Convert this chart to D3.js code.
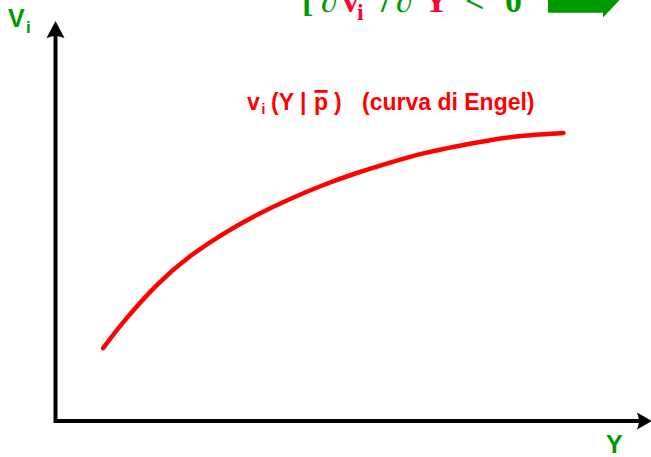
<!DOCTYPE html>
<html>
<head>
<meta charset="utf-8">
<script src="https://cdn.jsdelivr.net/npm/d3@7"></script>
<style>
  html, body { margin: 0; padding: 0; background: #fff; }
  svg { display: block; }
</style>
</head>
<body>
<svg id="chart" width="651" height="457"></svg>
<script>
// Engel curve: quantity demanded v_i against income Y, prices held fixed
const incomeY = [0.80, 1.15, 1.71, 2.27, 2.82, 3.38, 3.94, 4.50, 5.06, 5.62, 6.18, 6.74, 7.30, 7.86, 8.53];
const demandV = [1.82, 2.49, 3.41, 4.13, 4.68, 5.15, 5.55, 5.90, 6.20, 6.46, 6.69, 6.87, 7.02, 7.13, 7.20];
const axisMax = [10, 10];           // [Y, v] extent of the drawn axes
const axisLabels = ["Y", "V", "i"];

const svg = d3.select("#chart");

const x = d3.scaleLinear().domain([0, axisMax[0]]).range([55.5, 651]);
const y = d3.scaleLinear().domain([0, axisMax[1]]).range([421, 21]);

const GREEN = "#009900";
const RED = "#ff0000";
const RED2 = "#ff0033";

// ---- header formula (partly above the top edge) ----
const hdr = svg.append("text")
  .attr("font-family", "'Liberation Serif', 'Times New Roman', serif")
  .attr("font-weight", "bold")
  .attr("font-size", 34)
  .attr("y", 12);
const glyphs = [
  { t: "[", x: 302, c: GREEN },
  { t: "\u2202", x: 321, c: GREEN },
  { t: "v", x: 342, c: RED2 },
  { t: "i", x: 357, c: RED2, sub: true },
  { t: "/", x: 381, c: GREEN },
  { t: "\u2202", x: 396, c: GREEN },
  { t: "Y", x: 424, c: RED2 },
  { t: "<", x: 465, c: GREEN },
  { t: "0", x: 505, c: GREEN }
];
glyphs.forEach(g => {
  hdr.append("tspan")
    .attr("x", g.x)
    .attr("y", g.sub ? 20 : 12)
    .attr("font-size", g.sub ? 24 : 34)
    .attr("fill", g.c)
    .text(g.t);
});

// green block arrow at the top right
const arrowPath = d3.path();
arrowPath.moveTo(548, -20);
arrowPath.lineTo(603, -20);
arrowPath.lineTo(603, -47);
arrowPath.lineTo(634, -15);
arrowPath.lineTo(603, 17.5);
arrowPath.lineTo(603, 12.7);
arrowPath.lineTo(548, 12.7);
arrowPath.closePath();
svg.append("path").attr("d", arrowPath.toString()).attr("fill", GREEN);

// ---- axes ----
const x0 = x(0), y0 = y(0);
const xEnd = x(axisMax[0]), yEnd = y(axisMax[1]);
svg.append("path")
  .attr("d", d3.line()([[x0, yEnd + 14], [x0, y0], [xEnd - 12, y0]]))
  .attr("fill", "none")
  .attr("stroke", "#000")
  .attr("stroke-width", 4)
  .attr("stroke-linejoin", "miter")
  .attr("stroke-linecap", "square");

// arrowheads
svg.append("path")
  .attr("d", d3.line()([[x0, yEnd], [x0 + 9, yEnd + 17], [x0, yEnd + 14.5], [x0 - 9, yEnd + 17]]) + "Z")
  .attr("fill", "#000");
svg.append("path")
  .attr("d", d3.line()([[xEnd + 1, y0], [xEnd - 14, y0 - 8.5], [xEnd - 11.5, y0], [xEnd - 14, y0 + 8.5]]) + "Z")
  .attr("fill", "#000");

// axis labels
svg.append("text")
  .attr("x", 606).attr("y", 453)
  .attr("font-family", "'Liberation Sans', Arial, sans-serif")
  .attr("font-weight", "bold").attr("font-size", 25)
  .attr("fill", GREEN)
  .text(axisLabels[0]);
const vLab = svg.append("text")
  .attr("x", 8).attr("y", 27)
  .attr("font-family", "'Liberation Sans', Arial, sans-serif")
  .attr("font-weight", "bold").attr("font-size", 25)
  .attr("fill", GREEN);
vLab.append("tspan").text(axisLabels[1]);
vLab.append("tspan").attr("x", 26).attr("y", 33).attr("font-size", 17).text(axisLabels[2]);

// ---- Engel curve ----
const pts = incomeY.map((d, i) => [x(d), y(demandV[i])]);
svg.append("path")
  .attr("d", d3.line().curve(d3.curveNatural)(pts))
  .attr("fill", "none")
  .attr("stroke", RED)
  .attr("stroke-width", 4.5)
  .attr("stroke-linecap", "round");

// ---- curve label ----
const lab = svg.append("g")
  .attr("font-family", "'Liberation Sans', Arial, sans-serif")
  .attr("font-weight", "bold")
  .attr("fill", RED);
const ly = 110;
const fs = 23;
const t1 = lab.append("text").attr("y", ly).attr("font-size", fs);
t1.append("tspan").attr("x", 247).text("v");
t1.append("tspan").attr("x", 261.5).attr("y", ly + 4).attr("font-size", 14).text("i");
t1.append("tspan").attr("x", 271).attr("y", ly).text("(Y |");
const pText = lab.append("text").attr("x", 314).attr("y", ly).attr("font-size", fs).text("p");
lab.append("text").attr("x", 334).attr("y", ly).attr("font-size", fs).text(")");
lab.append("text").attr("x", 362).attr("y", ly).attr("font-size", fs).text("(curva di Engel)");
const pb = pText.node().getBBox();
lab.append("rect")
  .attr("x", pb.x + 0.5).attr("y", 90)
  .attr("width", pb.width - 1).attr("height", 2.8);
</script>
</body>
</html>
